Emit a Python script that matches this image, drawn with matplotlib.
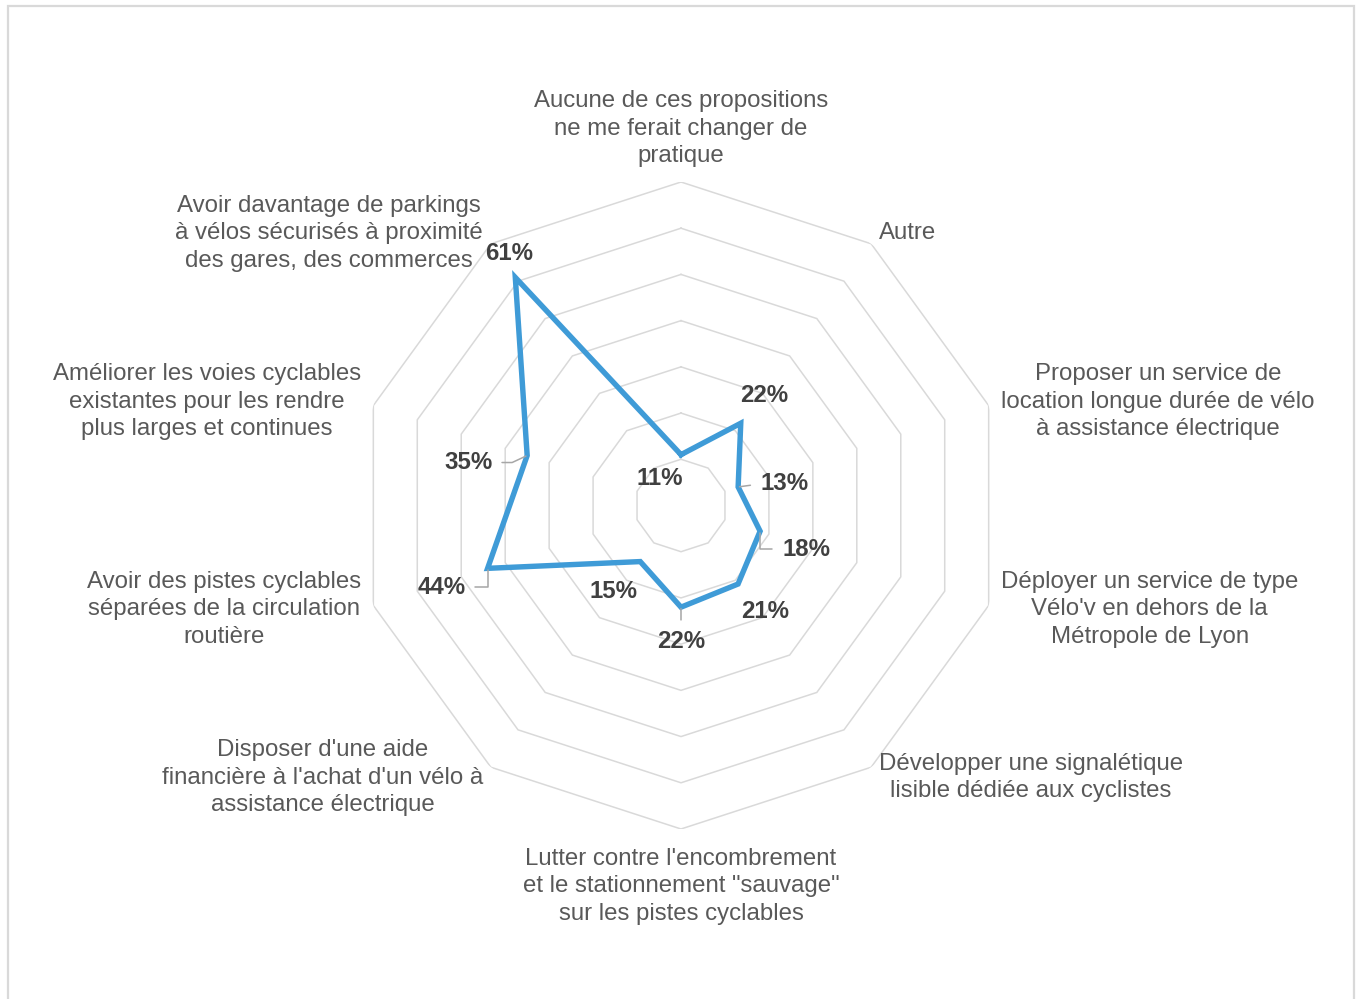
import numpy as np
import matplotlib
matplotlib.use('Agg')
import matplotlib.pyplot as plt
from matplotlib.patches import Rectangle

plt.rcParams['font.family'] = ['Liberation Sans', 'DejaVu Sans']

categories = [
    "Aucune de ces propositions\nne me ferait changer de\npratique",
    "Autre",
    "Proposer un service de\nlocation longue durée de vélo\nà assistance électrique",
    "Déployer un service de type\nVélo'v en dehors de la\nMétropole de Lyon",
    "Développer une signalétique\nlisible dédiée aux cyclistes",
    "Lutter contre l'encombrement\net le stationnement \"sauvage\"\nsur les pistes cyclables",
    "Disposer d'une aide\nfinancière à l'achat d'un vélo à\nassistance électrique",
    "Avoir des pistes cyclables\nséparées de la circulation\nroutière",
    "Améliorer les voies cyclables\nexistantes pour les rendre\nplus larges et continues",
    "Avoir davantage de parkings\nà vélos sécurisés à proximité\ndes gares, des commerces",
]
values = [11, 22, 13, 18, 21, 22, 15, 44, 35, 61]
rings = [10, 20, 30, 40, 50, 60, 70]

W, H = 1357, 999
cx, cy, R = 681, 505.5, 323.5

fig = plt.figure(figsize=(W / 100, H / 100), dpi=100)
fig.patch.set_facecolor('white')

# cadre gris autour du graphique
fig.patches.append(Rectangle((8 / W, -0.02), (1354 - 8) / W, 1.02 - 6 / H,
                             transform=fig.transFigure, fill=False,
                             edgecolor='#D9D9D9', lw=1.6))

ax = fig.add_axes([(cx - R) / W, (H - cy - R) / H, 2 * R / W, 2 * R / H],
                  projection='polar')
ax.set_theta_offset(np.pi / 2)
ax.set_theta_direction(-1)
ax.set_ylim(0, rings[-1])
ax.axis('off')

n = len(categories)
angles = np.arange(n) * 2 * np.pi / n
ang_closed = np.append(angles, angles[0])

for r in rings:
    ax.plot(ang_closed, [r] * (n + 1), color='#D9D9D9', lw=1.1, zorder=1)

ax.plot(ang_closed, values + values[:1], color='#3F9BD7', lw=3.9,
        solid_joinstyle='miter', zorder=3)

# libellés des catégories
for a, txt in zip(angles, categories):
    s, c = np.sin(a), np.cos(a)
    if abs(s) < 0.01:
        ha = 'center'
        va = 'bottom' if c > 0 else 'top'
        off = (0, 15 if c > 0 else -19)
    else:
        ha = 'left' if s > 0 else 'right'
        va = 'center'
        off = (13 * s, 13 * c)
    ax.annotate(txt, xy=(a, rings[-1]), xytext=off, textcoords='offset pixels',
                ha=ha, va=va, multialignment='center', fontsize=17.3,
                linespacing=1.32, color='#595959', annotation_clip=False)

# étiquettes de données (décalage en pixels) et lignes de repère
offsets = [(-21, -24), (23, 28), (46, 3), (46, -18), (27, -27),
           (0, -34), (-27, -30), (-46, -19), (-59, -7), (-6, 24)]
leaders = {
    2: dict(relpos=(0, 0.5), connectionstyle='arc3'),
    3: dict(relpos=(0, 0.5), connectionstyle='angle,angleA=0,angleB=90,rad=0'),
    5: dict(relpos=(0.5, 1), connectionstyle='arc3'),
    7: dict(relpos=(1, 0.5), connectionstyle='angle,angleA=0,angleB=90,rad=0'),
    8: dict(relpos=(1, 0.5), connectionstyle='angle,angleA=0,angleB=25,rad=0'),
}
for i, (a, v) in enumerate(zip(angles, values)):
    arrow = None
    if i in leaders:
        arrow = dict(arrowstyle='-', color='#A6A6A6', lw=1.1,
                     shrinkA=5, shrinkB=1, **leaders[i])
    ax.annotate(f'{v}%', xy=(a, v), xytext=offsets[i], textcoords='offset pixels',
                ha='center', va='center', fontsize=17.3, fontweight='bold',
                color='#404040', arrowprops=arrow, zorder=4)

fig.savefig('out.png', dpi=100, facecolor='white')
